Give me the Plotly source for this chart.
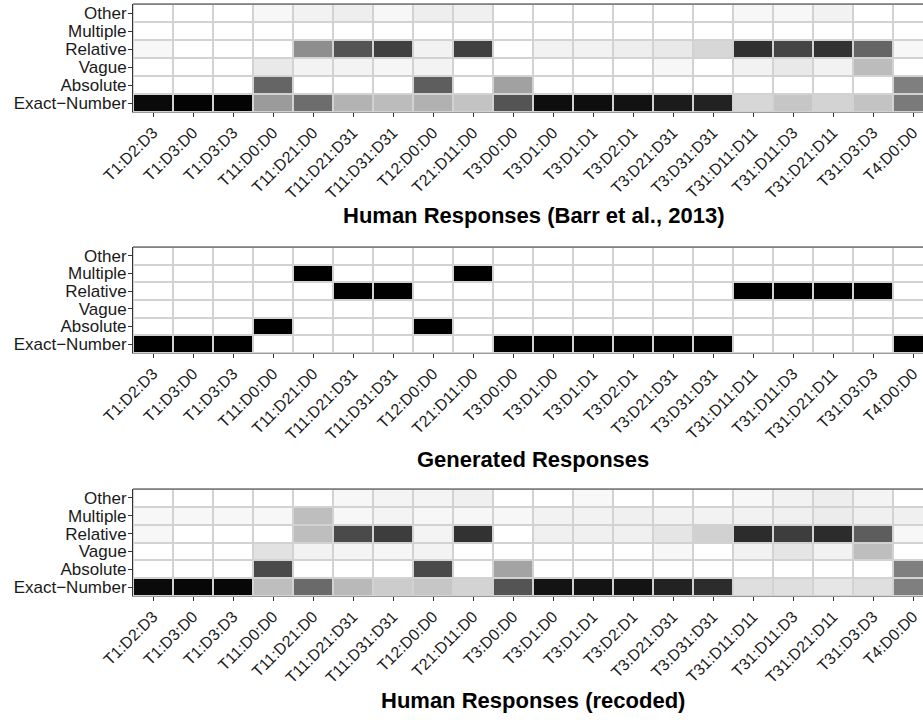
import plotly.graph_objects as go

# ---------------- data ----------------
conditions = ["T1:D2:D3", "T1:D3:D0", "T1:D3:D3", "T11:D0:D0", "T11:D21:D0",
              "T11:D21:D31", "T11:D31:D31", "T12:D0:D0", "T21:D11:D0", "T3:D0:D0",
              "T3:D1:D0", "T3:D1:D1", "T3:D2:D1", "T3:D21:D31", "T3:D31:D31",
              "T31:D11:D11", "T31:D11:D3", "T31:D21:D11", "T31:D3:D3", "T4:D0:D0"]
categories = ["Exact−Number", "Absolute", "Vague", "Relative", "Multiple", "Other"]

# Human Responses (Barr et al., 2013) – proportions
barr_exact    = [0.97, 0.99, 0.99, 0.36, 0.54, 0.27, 0.24, 0.28, 0.21, 0.64, 0.96, 0.96, 0.945, 0.90, 0.87, 0.14, 0.20, 0.155, 0.21, 0.49]
barr_absolute = [0, 0, 0, 0.57, 0, 0, 0, 0.60, 0, 0.34, 0, 0, 0, 0, 0, 0, 0, 0, 0, 0.47]
barr_vague    = [0, 0, 0, 0.077, 0.042, 0.042, 0.032, 0.042, 0, 0, 0, 0, 0, 0.029, 0, 0.048, 0.077, 0.048, 0.24, 0]
barr_relative = [0.03, 0, 0, 0, 0.41, 0.64, 0.73, 0.045, 0.73, 0, 0.048, 0.048, 0.06, 0.077, 0.14, 0.80, 0.71, 0.79, 0.57, 0.03]
barr_multiple = [0, 0, 0, 0, 0, 0, 0, 0, 0, 0, 0, 0, 0, 0, 0, 0, 0, 0, 0, 0]
barr_other    = [0, 0, 0, 0.03, 0.045, 0.06, 0.03, 0.06, 0.055, 0, 0, 0, 0, 0, 0, 0.03, 0.03, 0.048, 0, 0]

# Generated Responses
gen_exact    = [1, 1, 1, 0, 0, 0, 0, 0, 0, 1, 1, 1, 1, 1, 1, 0, 0, 0, 0, 1]
gen_absolute = [0, 0, 0, 1, 0, 0, 0, 1, 0, 0, 0, 0, 0, 0, 0, 0, 0, 0, 0, 0]
gen_vague    = [0, 0, 0, 0, 0, 0, 0, 0, 0, 0, 0, 0, 0, 0, 0, 0, 0, 0, 0, 0]
gen_relative = [0, 0, 0, 0, 0, 1, 1, 0, 0, 0, 0, 0, 0, 0, 0, 1, 1, 1, 1, 0]
gen_multiple = [0, 0, 0, 0, 1, 0, 0, 0, 1, 0, 0, 0, 0, 0, 0, 0, 0, 0, 0, 0]
gen_other    = [0, 0, 0, 0, 0, 0, 0, 0, 0, 0, 0, 0, 0, 0, 0, 0, 0, 0, 0, 0]

# Human Responses (recoded)
rec_exact    = [0.97, 0.98, 0.98, 0.23, 0.55, 0.25, 0.18, 0.20, 0.155, 0.64, 0.94, 0.94, 0.94, 0.87, 0.82, 0.11, 0.11, 0.086, 0.11, 0.47]
rec_absolute = [0, 0, 0, 0.685, 0, 0, 0, 0.685, 0, 0.33, 0, 0, 0, 0, 0, 0, 0, 0, 0, 0.47]
rec_vague    = [0, 0, 0, 0.10, 0.048, 0.039, 0.032, 0.042, 0, 0, 0, 0, 0, 0.029, 0, 0.048, 0.09, 0.048, 0.23, 0]
rec_relative = [0.03, 0, 0, 0, 0.23, 0.685, 0.74, 0.039, 0.79, 0, 0.055, 0.055, 0.055, 0.09, 0.16, 0.82, 0.74, 0.82, 0.605, 0.03]
rec_multiple = [0.029, 0.029, 0.029, 0.029, 0.23, 0.029, 0.039, 0.029, 0.029, 0.029, 0.048, 0.048, 0.055, 0.048, 0.048, 0.048, 0.055, 0.067, 0.055, 0.055]
rec_other    = [0, 0, 0, 0, 0, 0.029, 0.039, 0.039, 0.055, 0, 0, 0.026, 0, 0, 0, 0.029, 0.045, 0.06, 0.039, 0]

titles = ["Human Responses (Barr et al., 2013)", "Generated Responses", "Human Responses (recoded)"]

panels = [
    [barr_exact, barr_absolute, barr_vague, barr_relative, barr_multiple, barr_other],
    [gen_exact, gen_absolute, gen_vague, gen_relative, gen_multiple, gen_other],
    [rec_exact, rec_absolute, rec_vague, rec_relative, rec_multiple, rec_other],
]

# ---------------- style ----------------
W, H = 923, 720
FONT = "Liberation Sans, Arial, Helvetica, sans-serif"


def lab_grey(p):
    L = 100.0 * (1.0 - p)
    fy = (L + 16.0) / 116.0
    Y = fy ** 3 if fy ** 3 > 0.008856 else L / 903.3
    s = 12.92 * Y if Y <= 0.0031308 else 1.055 * Y ** (1 / 2.4) - 0.055
    g = max(0, min(255, round(255 * s)))
    return f"rgb({g},{g},{g})"


colorscale = [[i / 20, lab_grey(i / 20)] for i in range(21)]

# panel pixel boxes (top, bottom) and title centre y
panel_px = [(4, 112), (247, 353), (489, 596)]
title_px = [215, 460, 700]
left_px = 133

fig = go.Figure()
layout = dict(
    width=W, height=H,
    margin=dict(l=0, r=0, t=0, b=0),
    paper_bgcolor="white",
    plot_bgcolor="#d2d2d2",
    font=dict(family=FONT, color="#1a1a1a"),
    showlegend=False,
)
shapes = []
annotations = []

for i, (z_rows, title, (top, bot), ty) in enumerate(zip(panels, titles, panel_px, title_px)):
    idx = "" if i == 0 else str(i + 1)
    xa, ya = "x" + idx, "y" + idx
    fig.add_trace(go.Heatmap(
        x=conditions, y=categories, z=z_rows,
        zmin=0, zmax=1, colorscale=colorscale, showscale=False,
        xgap=2, ygap=2, xaxis=xa, yaxis=ya,
    ))
    layout["xaxis" + idx] = dict(
        domain=[left_px / W, 1], anchor=ya, range=[-0.5, 19.25],
        type="category", tickmode="array", tickvals=conditions, ticktext=conditions,
        tickangle=-45, ticks="outside", ticklen=4,
        tickcolor="#333333", tickfont=dict(size=16, family=FONT, color="#1a1a1a"),
        showgrid=False, zeroline=False, showline=True, linecolor="#9a9a9a",
        linewidth=1, automargin=False, fixedrange=True,
    )
    layout["yaxis" + idx] = dict(
        domain=[1 - bot / H, 1 - top / H], anchor=xa, range=[-0.5, 5.5],
        type="category", tickmode="array", tickvals=categories, ticktext=categories,
        ticks="outside", ticklen=4, tickcolor="#333333", ticklabelstandoff=-2,
        tickfont=dict(size=17, family=FONT, color="#1a1a1a"),
        showgrid=False, zeroline=False, showline=True, linecolor="#333333",
        linewidth=1, automargin=False, fixedrange=True,
    )
    shapes.append(dict(type="line", xref=xa + " domain", yref=ya + " domain",
                       x0=0, x1=1, y0=1, y1=1, line=dict(color="#333333", width=1.2)))
    annotations.append(dict(text=f"<b>{title}</b>", xref=xa, yref="paper",
                            x=9.5, y=1 - ty / H, xanchor="center", yanchor="middle",
                            showarrow=False, font=dict(size=22, family=FONT, color="black")))

layout["shapes"] = shapes
layout["annotations"] = annotations
fig.update_layout(**layout)
fig.write_html("out.html", config={"displayModeBar": False, "staticPlot": True},
               post_script="document.body.style.margin='0';document.body.style.overflow='hidden';")
